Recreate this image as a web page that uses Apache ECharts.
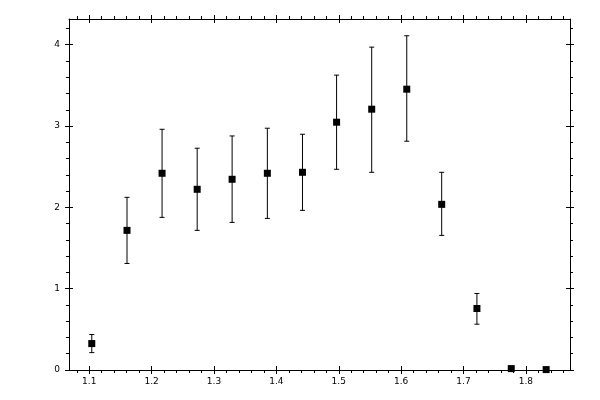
<!DOCTYPE html>
<html>
<head>
<meta charset="utf-8">
<script src="https://cdn.jsdelivr.net/npm/echarts@6/dist/echarts.min.js"></script>
<style>html,body{margin:0;padding:0;background:#fff}#c{width:600px;height:400px}</style>
</head>
<body>
<div id="c"></div>
<script>
// ---- data ----
const xValues = [1.104, 1.1605, 1.2167, 1.273, 1.329, 1.3855, 1.4418, 1.4965, 1.5528, 1.609, 1.665, 1.7215, 1.7765, 1.8325];
const yValues = [0.325, 1.717, 2.419, 2.222, 2.345, 2.419, 2.431, 3.047, 3.207, 3.453, 2.037, 0.756, 0.017, 0.005];
const yLow    = [0.214, 1.310, 1.877, 1.717, 1.815, 1.864, 1.963, 2.468, 2.431, 2.813, 1.655, 0.563, 0.017, 0.005];
const yHigh   = [0.436, 2.123, 2.960, 2.727, 2.878, 2.973, 2.899, 3.626, 3.970, 4.110, 2.431, 0.941, 0.017, 0.005];
const xTickLabels = [1.1, 1.2, 1.3, 1.4, 1.5, 1.6, 1.7, 1.8];
const xMinorTicks = [1.08, 1.12, 1.14, 1.16, 1.18, 1.22, 1.24, 1.26, 1.28, 1.32, 1.34, 1.36, 1.38, 1.42, 1.44, 1.46, 1.48, 1.52, 1.54, 1.56, 1.58, 1.62, 1.64, 1.66, 1.68, 1.72, 1.74, 1.76, 1.78, 1.82, 1.84, 1.86];
const yTickLabels = [0, 1, 2, 3, 4];
const yMinorTicks = [0.2, 0.4, 0.6, 0.8, 1.2, 1.4, 1.6, 1.8, 2.2, 2.4, 2.6, 2.8, 3.2, 3.4, 3.6, 3.8, 4.2];
const xMin = 1.0675, xMax = 1.8707;
const yMin = 0, yMax = 4.316;

const FONT = 'DejaVu Sans';
const BLACK = '#000';

function axis(kind, pos, vals, inside, len, showLine, showLabel) {
  const a = {
    type: 'value',
    position: pos,
    min: kind === 'x' ? xMin : yMin,
    max: kind === 'x' ? xMax : yMax,
    splitLine: { show: false },
    axisLine: { show: showLine, onZero: false, lineStyle: { color: BLACK, width: 1 } },
    axisTick: { show: true, inside: inside, length: len, customValues: vals, lineStyle: { color: BLACK, width: 1 } },
    axisLabel: { show: showLabel, customValues: vals, color: BLACK, fontFamily: FONT, fontSize: 9,
                 margin: kind === 'x' ? 7 : 9, formatter: v => String(v) },
    z: 5
  };
  return a;
}

const chart = echarts.init(document.getElementById('c'), null, { renderer: 'canvas' });

const scatterData = xValues.map((x, i) => [x, yValues[i]]);
const errData = xValues.map((x, i) => [x, yLow[i], yHigh[i]]);

chart.setOption({
  animation: false,
  backgroundColor: '#fff',
  grid: { left: 69, right: 30, top: 19, bottom: 30, containLabel: false },
  xAxis: [
    axis('x', 'bottom', xTickLabels, false, 4, true, true),
    axis('x', 'bottom', xTickLabels, true, 4, false, false),
    axis('x', 'bottom', xMinorTicks, false, 3, false, false),
    axis('x', 'top', xTickLabels, false, 4, true, false),
    axis('x', 'top', xTickLabels, true, 4, false, false),
    axis('x', 'top', xMinorTicks, false, 3, false, false)
  ],
  yAxis: [
    axis('y', 'left', yTickLabels, false, 4, true, true),
    axis('y', 'left', yTickLabels, true, 4, false, false),
    axis('y', 'left', yMinorTicks, false, 3, false, false),
    axis('y', 'right', yTickLabels, false, 4, true, false),
    axis('y', 'right', yTickLabels, true, 4, false, false),
    axis('y', 'right', yMinorTicks, false, 3, false, false)
  ],
  series: [
    {
      type: 'custom',
      xAxisIndex: 0, yAxisIndex: 0,
      data: errData,
      encode: { x: 0, y: [1, 2] },
      renderItem: function (params, api) {
        const x = api.value(0);
        const lo = api.coord([x, api.value(1)]);
        const hi = api.coord([x, api.value(2)]);
        const cap = 2.5;
        const st = { stroke: BLACK, lineWidth: 1 };
        return {
          type: 'group',
          children: [
            { type: 'line', shape: { x1: lo[0], y1: lo[1], x2: hi[0], y2: hi[1] }, style: st },
            { type: 'line', shape: { x1: lo[0] - cap, y1: lo[1], x2: lo[0] + cap, y2: lo[1] }, style: st },
            { type: 'line', shape: { x1: hi[0] - cap, y1: hi[1], x2: hi[0] + cap, y2: hi[1] }, style: st }
          ]
        };
      },
      z: 3
    },
    {
      type: 'scatter',
      xAxisIndex: 0, yAxisIndex: 0,
      data: scatterData,
      symbol: 'rect',
      symbolSize: 7,
      itemStyle: { color: BLACK, opacity: 1 },
      z: 4
    }
  ]
});
</script>
</body>
</html>
